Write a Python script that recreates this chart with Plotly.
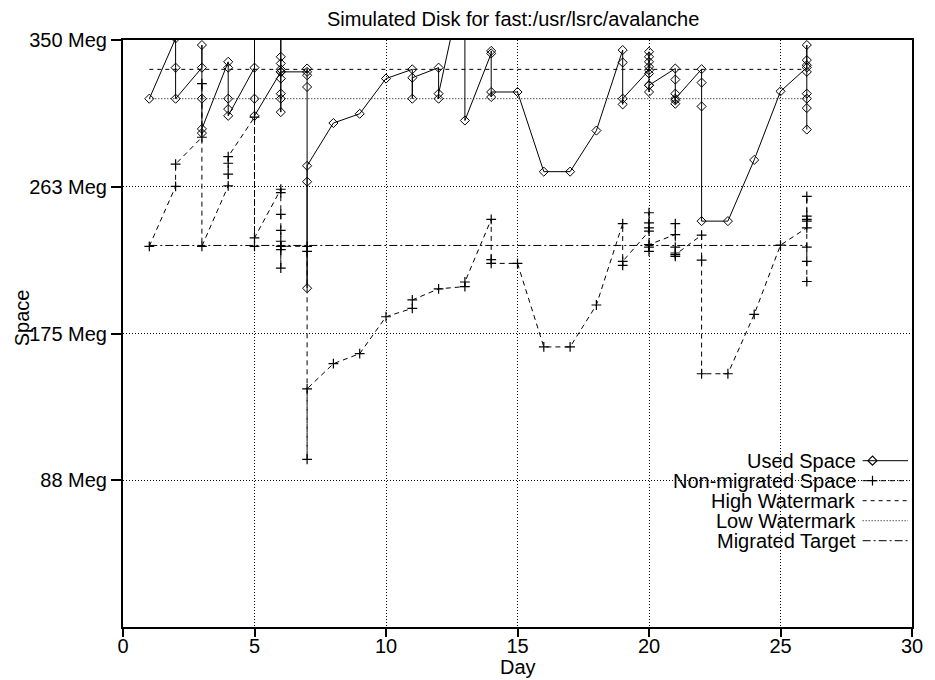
import plotly.graph_objects as go

# ---------------- data ----------------
used_day = [1,
            2, 2, 2,
            3, 3, 3, 3, 3,
            4, 4, 4, 4, 4,
            5, 5, 5, 5,
            6, 6, 6, 6, 6, 6, 6, 6, 6, 6,
            7, 7, 7, 7, 7, 7, 7,
            8, 9, 10,
            11, 11, 11,
            12, 12, 12,
            13, 13,
            14, 14, 14, 14,
            15, 16, 17, 18,
            19, 19, 19, 19,
            20, 20, 20, 20, 20, 20, 20, 20, 20,
            21, 21, 21, 21, 21, 21,
            22, 22, 22, 22,
            23, 24, 25,
            26, 26, 26, 26, 26, 26, 26, 26, 26]
used_val = [315,
            351, 333.5, 315,
            333.5, 347, 315, 294.5, 297,
            337, 333.5, 315, 308.8, 304.8,
            333.5, 360, 315, 304.8,
            331, 360, 340, 336, 332.5, 327, 318, 315, 307, 331,
            331, 333, 329, 322, 265.5, 202, 275,
            300.5, 306, 327,
            332.5, 315, 327.5,
            333.5, 315, 318,
            390, 302,
            342, 343.5, 316, 319,
            319, 271.5, 271.5, 296,
            344, 336.6, 311.6, 315,
            332, 343, 340, 337, 334, 330, 323, 319, 323,
            333, 326.4, 318, 314, 312, 315,
            332.6, 324.6, 310.4, 242,
            242, 278.5, 319.4,
            333.6, 347, 338, 335, 331, 318, 315, 309.4, 296.6]

nm_day = [1,
          2, 2,
          3, 3, 3,
          4, 4, 4, 4,
          5, 5, 5,
          6, 6, 6, 6, 6, 6, 6, 6, 6,
          7, 7, 7, 7,
          8, 9, 10,
          11, 11,
          12,
          13, 13,
          14, 14, 14,
          15, 16, 17, 18,
          19, 19, 19,
          20, 20, 20, 20, 20, 20, 20,
          21, 21, 21, 21, 21, 21,
          22, 22, 22,
          23, 24, 25,
          26, 26, 26, 26, 26, 26, 26, 26]
nm_val = [227,
          262.7, 276,
          292, 324, 227,
          263, 270, 276.5, 280.5,
          304, 227, 232,
          261, 259, 246, 236.5, 230, 227, 225, 214, 227,
          227, 224, 100, 142,
          157, 163, 185,
          190, 195,
          201.6,
          203, 205.7,
          243, 219, 216.8,
          216.8, 167, 167, 192,
          240.5, 215.6, 218,
          236, 247, 241, 238, 226.5, 224, 228,
          234, 240.5, 226.5, 223, 221, 222,
          233.7, 218.7, 151,
          151, 186.4, 227.7,
          238, 256.8, 245, 243, 242, 226.5, 218, 206]

disk_size = 350
high_watermark = 332.5
low_watermark = 315
migrated_target = 227.5

x_ticks = [0, 5, 10, 15, 20, 25, 30]
y_ticks = [87.5, 175, 262.5, 350]
y_tick_text = ["88 Meg", "175 Meg", "263 Meg", "350 Meg"]

legend_names = ["Used Space", "Non-migrated Space", "High Watermark",
                "Low Watermark", "Migrated Target"]

title_text = "Simulated Disk for fast:/usr/lsrc/avalanche"

# ---------------- styles ----------------
FONT = "Liberation Sans, Arial, Helvetica, sans-serif"
NM_DASH = "5px,4px"
HW_DASH = "4px,4px"
LW_DASH = "1px,2px"
MT_DASH = "8px,3px,2px,3px"

fig = go.Figure()

fig.add_trace(go.Scatter(
    x=used_day, y=used_val, mode="lines+markers",
    line=dict(color="black", width=1),
    marker=dict(symbol="diamond-open", size=7, color="black",
                line=dict(color="black", width=1)),
    showlegend=False, name=legend_names[0]))

fig.add_trace(go.Scatter(
    x=nm_day, y=nm_val, mode="lines+markers",
    line=dict(color="black", width=1, dash=NM_DASH),
    marker=dict(symbol="cross-thin-open", size=7, color="black",
                line=dict(color="black", width=1.2)),
    showlegend=False, name=legend_names[1]))

d0, d1 = min(used_day), max(used_day)
for val, dash, nm in [(high_watermark, HW_DASH, legend_names[2]),
                      (low_watermark, LW_DASH, legend_names[3]),
                      (migrated_target, MT_DASH, legend_names[4])]:
    fig.add_trace(go.Scatter(
        x=[d0, d1], y=[val, val], mode="lines",
        line=dict(color="black", width=1, dash=dash),
        showlegend=False, name=nm))

# ---------------- legend (gnuplot style: text then sample) ----------------
l, r, t, b = 123, 13, 40, 53
W, H = 935, 680
pw, ph = W - l - r, H - t - b
def px_x(x):
    return (x - l) / pw
def px_y(y):
    return (H - b - y) / ph

row_y = [460.7, 480.7, 500.7, 520.7, 540.7]
text_right = px_x(867)
s0, s1, sm = px_x(872), px_x(918), px_x(882)
samples = [("solid", "diamond-open"), (NM_DASH, "cross-thin-open"),
           (HW_DASH, None), (LW_DASH, None), (MT_DASH, None)]
annotations = []
for name, ry, (dash, sym) in zip(legend_names, row_y, samples):
    yy = px_y(ry)
    annotations.append(dict(text=name, x=text_right, y=yy, xref="paper", yref="paper",
                            xanchor="right", yanchor="middle", showarrow=False,
                            font=dict(family=FONT, size=20, color="black")))
    fig.add_trace(go.Scatter(x=[s0, s1], y=[yy, yy], mode="lines",
                             line=dict(color="black", width=1, dash=dash),
                             xaxis="x2", yaxis="y2", showlegend=False,
                             hoverinfo="skip"))
    if sym:
        fig.add_trace(go.Scatter(x=[sm], y=[yy], mode="markers",
                                 marker=dict(symbol=sym, size=7, color="black",
                                             line=dict(color="black", width=1.2)),
                                 xaxis="x2", yaxis="y2", showlegend=False,
                                 hoverinfo="skip"))

annotations.append(dict(text=title_text, x=px_x(518), y=px_y(19), xref="paper", yref="paper",
                        xanchor="center", yanchor="middle", showarrow=False,
                        font=dict(family=FONT, size=20, color="black")))
annotations.append(dict(text="Day", x=px_x(523), y=px_y(667), xref="paper", yref="paper",
                        xanchor="center", yanchor="middle", showarrow=False,
                        font=dict(family=FONT, size=20, color="black")))
annotations.append(dict(text="Space", x=px_x(21), y=px_y(318), xref="paper", yref="paper",
                        xanchor="center", yanchor="middle", showarrow=False, textangle=-90,
                        font=dict(family=FONT, size=20, color="black")))

fig.update_layout(
    width=W, height=H,
    margin=dict(l=l, r=r, t=t, b=b, pad=0),
    paper_bgcolor="white", plot_bgcolor="white",
    font=dict(family=FONT, size=20, color="black"),
    annotations=annotations,
    xaxis=dict(range=[0, 30], tickvals=x_ticks, ticks="outside", ticklen=8,
               tickwidth=1.5, tickcolor="black", ticklabelstandoff=-8,
               showline=True, linewidth=2, linecolor="black", mirror=True,
               showgrid=True, gridcolor="black", gridwidth=1, griddash=LW_DASH,
               zeroline=False, tickfont=dict(family=FONT, size=20, color="black")),
    yaxis=dict(range=[0, disk_size], tickvals=y_ticks, ticktext=y_tick_text,
               ticks="outside", ticklen=10, tickwidth=1.5, tickcolor="black",
               showline=True, linewidth=2, linecolor="black", mirror=True,
               showgrid=True, gridcolor="black", gridwidth=1, griddash=LW_DASH,
               zeroline=False, tickfont=dict(family=FONT, size=20, color="black")),
    xaxis2=dict(overlaying="x", range=[0, 1], visible=False),
    yaxis2=dict(overlaying="y", range=[0, 1], visible=False),
)

fig.write_html("out.html")
